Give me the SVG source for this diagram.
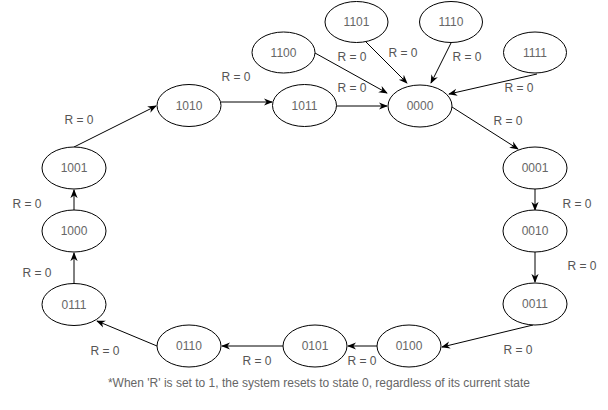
<svg xmlns="http://www.w3.org/2000/svg" width="608" height="410" viewBox="0 0 608 410">
<style>
.n ellipse{fill:#fff;stroke:#000;stroke-width:1}
.n text{font-family:"Liberation Sans",Arial,sans-serif;font-size:12px;fill:#666;text-anchor:middle}
.e line{stroke:#000;stroke-width:1;marker-end:url(#arr)}
.lbl{font-family:"Liberation Sans",Arial,sans-serif;font-size:12px;fill:#555;text-anchor:middle}
.foot{font-family:"Liberation Sans",Arial,sans-serif;font-size:12px;fill:#666;text-anchor:middle}
</style>
<defs>
<marker id="arr" viewBox="0 0 10 10" refX="9" refY="5" markerWidth="9" markerHeight="9" orient="auto" markerUnits="userSpaceOnUse">
<path d="M0,1 L10,5 L0,9 L3,5 z" fill="#000"/>
</marker>
</defs>
<rect width="608" height="410" fill="#fff"/>
<g id="connectors" class="e">
<line x1="74" y1="147" x2="156" y2="106"/>
<line x1="221" y1="102" x2="272" y2="102"/>
<line x1="336" y1="106" x2="387" y2="106"/>
<line x1="315" y1="53" x2="387" y2="93"/>
<line x1="366" y1="42" x2="407" y2="83"/>
<line x1="451" y1="43" x2="431" y2="83"/>
<line x1="537" y1="74" x2="449" y2="94"/>
<line x1="452" y1="107" x2="518" y2="149"/>
<line x1="535" y1="189" x2="535" y2="210"/>
<line x1="535" y1="252" x2="535" y2="282"/>
<line x1="533" y1="325" x2="442" y2="347"/>
<line x1="377" y1="346" x2="348" y2="346"/>
<line x1="283" y1="346" x2="222" y2="346"/>
<line x1="157" y1="346" x2="97" y2="321"/>
<line x1="74" y1="283" x2="74" y2="253"/>
<line x1="74" y1="210" x2="74" y2="190"/>
<g id="edge-labels">
<text class="lbl" x="79" y="124">R = 0</text>
<text class="lbl" x="236" y="81">R = 0</text>
<text class="lbl" x="352" y="61">R = 0</text>
<text class="lbl" x="403" y="57">R = 0</text>
<text class="lbl" x="467" y="61">R = 0</text>
<text class="lbl" x="352" y="92">R = 0</text>
<text class="lbl" x="519" y="92">R = 0</text>
<text class="lbl" x="508" y="125">R = 0</text>
<text class="lbl" x="577" y="208">R = 0</text>
<text class="lbl" x="582" y="270">R = 0</text>
<text class="lbl" x="518" y="354">R = 0</text>
<text class="lbl" x="362" y="365">R = 0</text>
<text class="lbl" x="257" y="365">R = 0</text>
<text class="lbl" x="105" y="355">R = 0</text>
<text class="lbl" x="37" y="277">R = 0</text>
<text class="lbl" x="27" y="208">R = 0</text>
</g>
</g>
<g id="n1101" class="n"><ellipse cx="356.5" cy="22" rx="31.5" ry="20.5"/><text x="356.5" y="26">1101</text></g>
<g id="n1110" class="n"><ellipse cx="451" cy="22" rx="31.5" ry="20.5"/><text x="451" y="26">1110</text></g>
<g id="n1100" class="n"><ellipse cx="283.5" cy="52.5" rx="31.5" ry="20.5"/><text x="283.5" y="56.5">1100</text></g>
<g id="n1111" class="n"><ellipse cx="535" cy="52.5" rx="31.5" ry="20.5"/><text x="535" y="56.5">1111</text></g>
<g id="n1010" class="n"><ellipse cx="189" cy="105.5" rx="32" ry="21"/><text x="189" y="109.5">1010</text></g>
<g id="n1011" class="n"><ellipse cx="304.5" cy="105.5" rx="32" ry="21"/><text x="304.5" y="109.5">1011</text></g>
<g id="n0000" class="n"><ellipse cx="420" cy="106" rx="32" ry="21"/><text x="420" y="110">0000</text></g>
<g id="n1001" class="n"><ellipse cx="74" cy="168" rx="32" ry="21"/><text x="74" y="172">1001</text></g>
<g id="n1000" class="n"><ellipse cx="74" cy="231" rx="32" ry="21"/><text x="74" y="235">1000</text></g>
<g id="n0111" class="n"><ellipse cx="74" cy="304.5" rx="32" ry="21"/><text x="74" y="308.5">0111</text></g>
<g id="n0110" class="n"><ellipse cx="189" cy="346" rx="32" ry="21"/><text x="189" y="350">0110</text></g>
<g id="n0101" class="n"><ellipse cx="315" cy="346" rx="32" ry="21"/><text x="315" y="350">0101</text></g>
<g id="n0100" class="n"><ellipse cx="409" cy="346" rx="32" ry="21"/><text x="409" y="350">0100</text></g>
<g id="n0001" class="n"><ellipse cx="535" cy="168" rx="32" ry="21"/><text x="535" y="172">0001</text></g>
<g id="n0010" class="n"><ellipse cx="535" cy="231" rx="32" ry="21"/><text x="535" y="235">0010</text></g>
<g id="n0011" class="n"><ellipse cx="535" cy="304" rx="32" ry="21"/><text x="535" y="308">0011</text></g>
<text class="foot" x="319" y="387">*When 'R' is set to 1, the system resets to state 0, regardless of its current state</text>
</svg>
